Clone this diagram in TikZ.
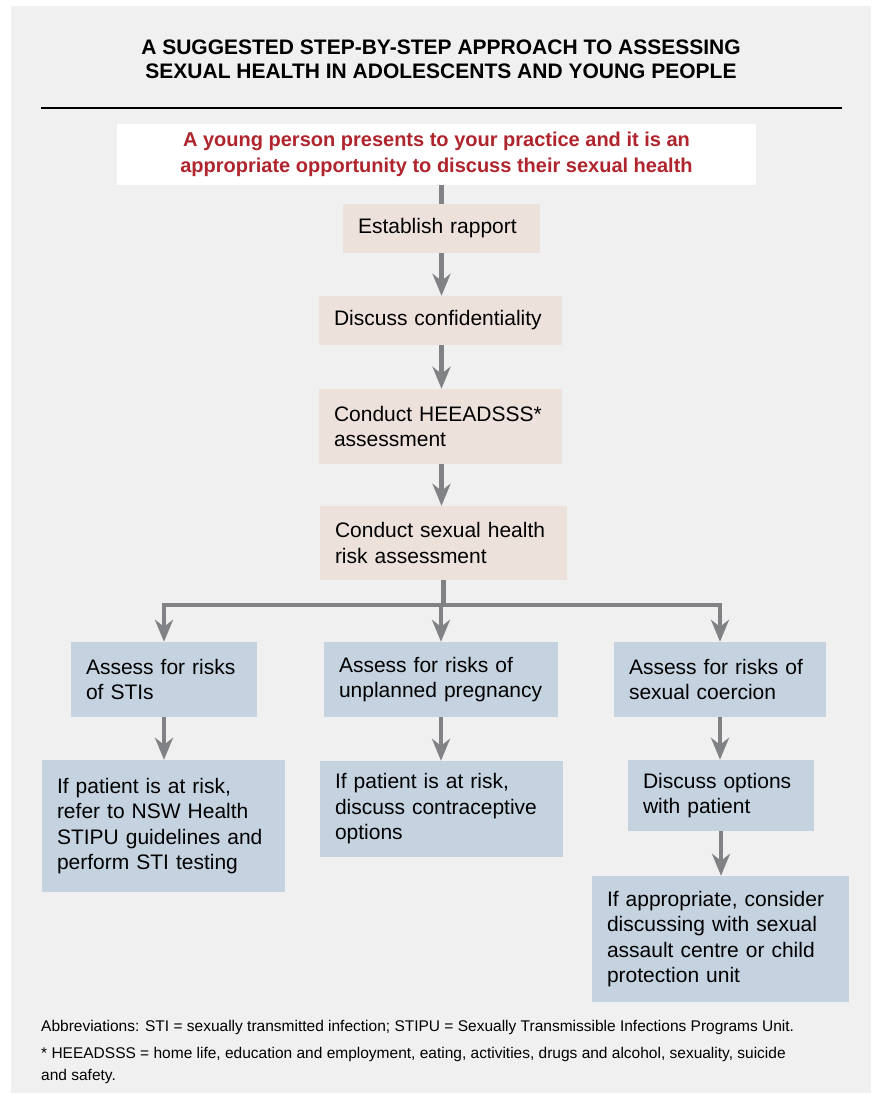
\documentclass[tikz,border=0pt]{standalone}
\usepackage{fontspec}
\setmainfont{Liberation Sans}
\usetikzlibrary{arrows.meta}
\definecolor{pagegray}{HTML}{F0F0F0}
\definecolor{stepred}{HTML}{B0242D}
\definecolor{steppink}{HTML}{EDE1DC}
\definecolor{stepblue}{HTML}{C5D3E0}
\definecolor{linegray}{HTML}{808285}
\newcommand{\boxfont}{\fontsize{21}{25.5}\selectfont}

\begin{document}
\begin{tikzpicture}[x=1pt,y=1pt]
\tikzstyle{every node}+=[inner ysep=0pt]
\tikzstyle{pinkbox}=[fill=steppink,inner xsep=15pt,align=left,font=\boxfont]
\tikzstyle{bluebox}=[fill=stepblue,inner xsep=15pt,align=left,font=\boxfont]
\tikzstyle{note}=[anchor=west,inner xsep=0pt,align=left,font=\fontsize{15.5}{22}\selectfont]
\tikzstyle{flow}=[draw=linegray,line width=4.5pt]
\tikzstyle{flowarrow}=[flow,-{Stealth[length=22pt,width=18pt,inset=7pt]}]
\useasboundingbox (0,0) rectangle (871,-1095);
\fill [white] (0,0) rectangle (871,-1095);
\fill [pagegray] (11,-6) rectangle (871,-1093);
\node (title) at (441,-59) [align=center,font=\bfseries\fontsize{21}{24}\selectfont] {A SUGGESTED STEP-BY-STEP APPROACH TO ASSESSING\\SEXUAL HEALTH IN ADOLESCENTS AND YOUNG PEOPLE};
\coordinate (ruleL) at (41,-108);
\coordinate (ruleR) at (842,-108);
\draw [black,line width=1.3pt] (ruleL) -- (ruleR);
\node (start) at (436.5,-154.5) [fill=white,minimum width=639pt,minimum height=61pt,align=center,text=stepred,font=\bfseries\fontsize{20}{26}\selectfont] {A young person presents to your practice and it is an\\appropriate opportunity to discuss their sexual health};
\node (rapport) at (441.5,-228.5) [pinkbox,text width=167pt,minimum height=49pt] {Establish rapport};
\node (confid) at (440.5,-320.5) [pinkbox,text width=213pt,minimum height=49pt] {Discuss confidentiality};
\node (heeadsss) at (440.5,-426.5) [pinkbox,text width=213pt,minimum height=75pt] {Conduct HEEADSSS*\\assessment};
\node (risk) at (443.5,-543) [pinkbox,text width=217pt,minimum height=74pt] {Conduct sexual health\\risk assessment};
\node (sti) at (164,-679.5) [bluebox,text width=156pt,minimum height=75pt] {Assess for risks\\of STIs};
\node (preg) at (441,-679.5) [bluebox,text width=204pt,minimum height=75pt] {Assess for risks of\\unplanned pregnancy};
\node (coer) at (720,-679.5) [bluebox,text width=182pt,minimum height=75pt] {Assess for risks of\\sexual coercion};
\node (stitest) at (163.5,-826) [bluebox,text width=213pt,minimum height=132pt] {If patient is at risk,\\refer to NSW Health\\STIPU guidelines and\\perform STI testing};
\node (contra) at (441.5,-809) [bluebox,text width=213pt,minimum height=96pt] {If patient is at risk,\\discuss contraceptive\\options};
\node (options) at (721,-795.5) [bluebox,text width=156pt,minimum height=71pt] {Discuss options\\with patient};
\node (centre) at (720.5,-939) [bluebox,text width=227pt,minimum height=126pt] {If appropriate, consider\\discussing with sexual\\assault centre or child\\protection unit};
\coordinate (junc) at (443.5,-605);
\draw [flow] (start.south -| rapport.north) -- (rapport.north);
\draw [flowarrow] (rapport.south) -- (rapport.south |- confid.north);
\draw [flowarrow] (confid.south -| rapport.south) -- (rapport.south |- heeadsss.north);
\draw [flowarrow] (heeadsss.south -| rapport.south) -- (rapport.south |- risk.north);
\draw [flow] (risk.south) -- (junc);
\draw [flow] ([xshift=-2.25pt]sti.north |- junc) -- ([xshift=2.25pt]coer.north |- junc);
\draw [flowarrow] ([yshift=2.25pt]sti.north |- junc) -- (sti.north);
\draw [flowarrow] ([yshift=2.25pt]preg.north |- junc) -- (preg.north);
\draw [flowarrow] ([yshift=2.25pt]coer.north |- junc) -- (coer.north);
\draw [flowarrow] (sti.south) -- (sti.south |- stitest.north);
\draw [flowarrow] (preg.south) -- (preg.south |- contra.north);
\draw [flowarrow] (coer.south) -- (coer.south |- options.north);
\draw [flowarrow] (options.south) -- (options.south |- centre.north);
\node (abbrev) at (41,-1027) [note] {Abbreviations: STI = sexually transmitted infection; STIPU = Sexually Transmissible Infections Programs Unit.};
\node (heeadnote) at (41,-1065) [note] {* HEEADSSS = home life, education and employment, eating, activities, drugs and alcohol, sexuality, suicide\\and safety.};
\end{tikzpicture}
\end{document}
